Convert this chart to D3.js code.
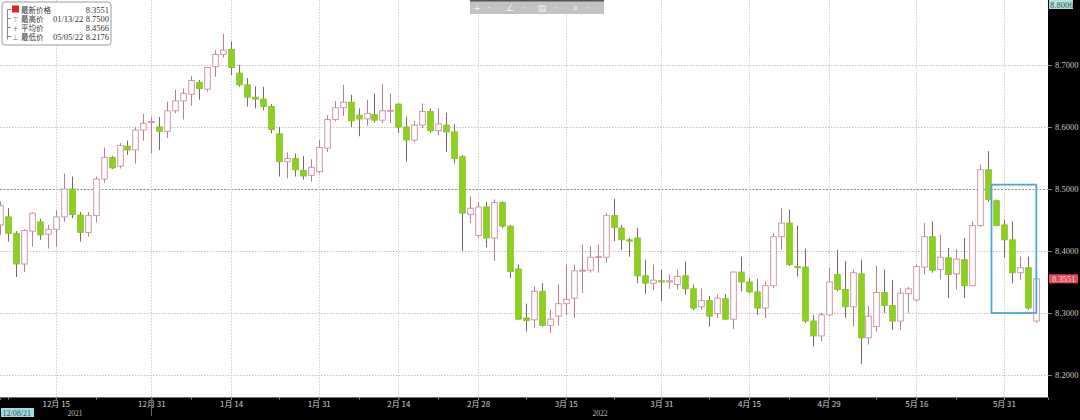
<!DOCTYPE html>
<html><head><meta charset="utf-8">
<script src="https://cdn.jsdelivr.net/npm/d3@7"></script>
<style>html,body{margin:0;padding:0;background:#000;}svg{display:block;}</style>
</head><body>
<svg id="chart" width="1080" height="420"></svg>
<script>
// ---- data (index = trading day, 0 = 2021-12-06) ----
const openV = [8.442,8.455,8.4285,8.379,8.432,8.447,8.427,8.435,8.455,8.5,8.458,8.43,8.457,8.516,8.551,8.537,8.569,8.563,8.595,8.608,8.6,8.593,8.626,8.642,8.653,8.672,8.661,8.697,8.717,8.725,8.687,8.668,8.648,8.645,8.633,8.589,8.544,8.549,8.53,8.522,8.528,8.566,8.612,8.631,8.64,8.619,8.613,8.62,8.611,8.626,8.637,8.6,8.579,8.603,8.625,8.594,8.603,8.592,8.552,8.459,8.425,8.471,8.421,8.478,8.44,8.371,8.292,8.289,8.335,8.28,8.295,8.315,8.324,8.368,8.369,8.39,8.39,8.457,8.437,8.418,8.421,8.36,8.348,8.352,8.35,8.346,8.36,8.339,8.31,8.32,8.299,8.323,8.29,8.366,8.35,8.334,8.308,8.344,8.423,8.445,8.375,8.374,8.287,8.263,8.297,8.362,8.338,8.31,8.363,8.26,8.278,8.333,8.312,8.287,8.331,8.321,8.374,8.423,8.37,8.389,8.363,8.386,8.344,8.441,8.531,8.481,8.442,8.418,8.365,8.373,8.287];
const highV = [8.48,8.469,8.432,8.435,8.462,8.452,8.442,8.466,8.525,8.52,8.463,8.463,8.52,8.567,8.553,8.574,8.578,8.6,8.621,8.617,8.616,8.641,8.66,8.662,8.682,8.676,8.697,8.724,8.75,8.738,8.7,8.679,8.665,8.665,8.637,8.6,8.559,8.557,8.553,8.548,8.579,8.619,8.642,8.668,8.652,8.63,8.644,8.654,8.669,8.654,8.638,8.617,8.61,8.638,8.63,8.63,8.623,8.605,8.555,8.488,8.478,8.48,8.483,8.48,8.442,8.378,8.315,8.343,8.348,8.305,8.346,8.378,8.378,8.41,8.408,8.41,8.461,8.484,8.442,8.421,8.437,8.386,8.378,8.37,8.362,8.37,8.383,8.346,8.34,8.327,8.33,8.33,8.367,8.391,8.356,8.355,8.351,8.429,8.469,8.467,8.441,8.404,8.297,8.3,8.373,8.402,8.384,8.37,8.386,8.311,8.376,8.37,8.353,8.34,8.342,8.378,8.445,8.448,8.426,8.405,8.403,8.421,8.448,8.539,8.561,8.483,8.45,8.448,8.391,8.391,8.356];
const lowV = [8.426,8.415,8.358,8.366,8.407,8.418,8.404,8.407,8.447,8.453,8.415,8.423,8.446,8.51,8.532,8.533,8.555,8.541,8.578,8.558,8.563,8.582,8.622,8.612,8.634,8.644,8.657,8.681,8.712,8.684,8.665,8.633,8.63,8.627,8.59,8.52,8.517,8.52,8.515,8.512,8.525,8.56,8.609,8.618,8.6,8.585,8.602,8.607,8.606,8.606,8.59,8.544,8.576,8.598,8.59,8.587,8.56,8.541,8.4,8.445,8.421,8.406,8.384,8.437,8.356,8.289,8.27,8.276,8.278,8.268,8.28,8.297,8.292,8.332,8.365,8.365,8.381,8.416,8.402,8.391,8.348,8.331,8.337,8.319,8.339,8.338,8.33,8.305,8.305,8.278,8.292,8.289,8.274,8.335,8.332,8.297,8.292,8.34,8.402,8.376,8.359,8.284,8.246,8.254,8.295,8.335,8.292,8.278,8.2176,8.249,8.27,8.3,8.273,8.273,8.3,8.318,8.362,8.365,8.354,8.324,8.338,8.324,8.343,8.439,8.48,8.44,8.389,8.348,8.354,8.305,8.284];
const closeV = [8.473,8.4285,8.379,8.433,8.461,8.426,8.435,8.455,8.5,8.459,8.43,8.457,8.516,8.551,8.534,8.57,8.563,8.595,8.606,8.609,8.593,8.626,8.642,8.654,8.675,8.662,8.696,8.717,8.724,8.696,8.668,8.648,8.645,8.633,8.596,8.544,8.549,8.531,8.521,8.535,8.567,8.612,8.631,8.64,8.61,8.613,8.622,8.611,8.626,8.627,8.6,8.579,8.603,8.625,8.594,8.605,8.592,8.549,8.461,8.469,8.471,8.421,8.478,8.44,8.367,8.29,8.288,8.335,8.28,8.29,8.315,8.322,8.368,8.369,8.39,8.391,8.457,8.438,8.418,8.416,8.36,8.348,8.353,8.35,8.352,8.359,8.339,8.308,8.32,8.295,8.324,8.29,8.366,8.35,8.334,8.308,8.344,8.423,8.445,8.378,8.373,8.287,8.263,8.297,8.35,8.338,8.31,8.365,8.26,8.295,8.333,8.312,8.287,8.332,8.339,8.375,8.423,8.369,8.39,8.362,8.387,8.344,8.441,8.531,8.483,8.441,8.418,8.365,8.373,8.308,8.3551];

const xTickIdx = [7,19,29,40,50,60,71,83,94,104,115,126];
const xTickLabels = ["12月 15","12月 31","1月 14","1月 31","2月 14","2月 28","3月 15","3月 31","4月 15","4月 29","5月 16","5月 31"];
const xMinorIdx = [1,12,24,35,45,55,66,77,89,99,110,120];
const yearIdx = [9.4,75.3];
const yearLabels = ["2021","2022"];
const yTicks = [8.2,8.3,8.4,8.5,8.6,8.7];
const yMaxLabel = 8.8006;
const lastPrice = 8.3551;
const legendNames = ["最新价格","最高价","平均价","最低价"];
const legendDates = ["","01/13/22","","05/05/22"];
const legendValues = ["8.3551","8.7500","8.4566","8.2176"];
const boxRange = {i0:125, i1:130, v0:8.3, v1:8.507};
const startDateLabel = "12/08/21";

// ---- layout ----
const W = 1080, H = 420, plotR = 1048, plotB = 397;
const svg = d3.select("#chart");
const x = d3.scaleLinear().domain([0, 131.53]).range([0, plotR]);
const y = d3.scaleLinear().domain([8.1645, 8.8048]).range([plotB, 0]);

svg.append("rect").attr("width", W).attr("height", H).attr("fill", "#000");
svg.append("rect").attr("width", plotR).attr("height", plotB).attr("fill", "#fff");

// gridlines
const g = svg.append("g");
g.selectAll("line.hg").data(yTicks).join("line")
  .attr("x1", 0).attr("x2", plotR)
  .attr("y1", d => Math.round(y(d)) + 0.5).attr("y2", d => Math.round(y(d)) + 0.5)
  .attr("stroke", d => d === 8.5 ? "#8a8a8a" : "#c4c4c4")
  .attr("stroke-dasharray", d => d === 8.5 ? "2,1.5" : "1.5,1.5");
g.selectAll("line.vg").data(xTickIdx).join("line")
  .attr("x1", d => Math.round(x(d)) + 0.5).attr("x2", d => Math.round(x(d)) + 0.5)
  .attr("y1", 0).attr("y2", plotB)
  .attr("stroke", "#cfcfcf").attr("stroke-dasharray", "1.5,1.5");

// candles
const idx = d3.range(openV.length);
const bw = 5.6;
const cg = svg.append("g");
cg.selectAll("line.wick").data(idx).join("line")
  .attr("x1", i => Math.round(x(i)) + 0.5).attr("x2", i => Math.round(x(i)) + 0.5)
  .attr("y1", i => y(highV[i])).attr("y2", i => y(lowV[i]))
  .attr("stroke", i => closeV[i] >= openV[i] ? "#b0809a" : "#7e6373")
  .attr("stroke-width", 1);
cg.selectAll("rect.body").data(idx).join("rect")
  .attr("x", i => Math.round(x(i)) + 0.5 - bw / 2)
  .attr("width", bw)
  .attr("y", i => y(Math.max(openV[i], closeV[i])))
  .attr("height", i => Math.max(1, Math.abs(y(openV[i]) - y(closeV[i]))))
  .attr("fill", i => closeV[i] >= openV[i] ? "#fff" : "#8dd020")
  .attr("stroke", i => closeV[i] >= openV[i] ? "#c98ea8" : "#86c41f")
  .attr("stroke-width", 0.9);

// highlight box
svg.append("rect")
  .attr("x", x(boxRange.i0) - 4.5).attr("y", y(boxRange.v1))
  .attr("width", x(boxRange.i1) - x(boxRange.i0) + 5)
  .attr("height", y(boxRange.v0) - y(boxRange.v1))
  .attr("fill", "none").attr("stroke", "#4fa6d6").attr("stroke-width", 1.8);

// right axis
const ya = svg.append("g").attr("transform", `translate(${plotR},0)`)
  .call(d3.axisRight(y).tickValues(yTicks).tickFormat(d3.format(".4f")).tickSize(4).tickPadding(3));
ya.select(".domain").remove();
ya.selectAll(".tick line").attr("stroke", "#888");
ya.selectAll(".tick text").attr("fill", "#c8c8c8").style("font-family", "'Liberation Serif', serif").style("font-size", "8.5px");

// top max label
svg.append("rect").attr("x", plotR + 1).attr("y", 0).attr("width", 24).attr("height", 9).attr("fill", "#b7e2dc");
svg.append("text").attr("x", plotR + 2).attr("y", 7.5).text(d3.format(".4f")(yMaxLabel))
  .attr("fill", "#1f5552").style("font-family", "'Liberation Serif', serif").style("font-size", "8.5px");
// last price label
svg.append("rect").attr("x", plotR + 1).attr("y", y(lastPrice) - 4.5).attr("width", 29).attr("height", 9).attr("fill", "#e04a5a");
svg.append("text").attr("x", plotR + 4).attr("y", y(lastPrice) + 3).text(d3.format(".4f")(lastPrice))
  .attr("fill", "#ffd4da").style("font-family", "'Liberation Serif', serif").style("font-size", "8.5px");

// bottom axis
const xa = svg.append("g").attr("transform", `translate(0,${plotB})`)
  .call(d3.axisBottom(x).tickValues(xTickIdx).tickFormat((d, i) => xTickLabels[i]).tickSize(3).tickPadding(1));
xa.select(".domain").attr("stroke", "#777");
xa.selectAll(".tick line").attr("stroke", "#999");
xa.selectAll(".tick text").attr("fill", "#cfcfcf").style("font-family", "'Noto Sans CJK SC', sans-serif").style("font-size", "8px");
svg.append("g").selectAll("line").data(xMinorIdx).join("line")
  .attr("x1", d => Math.round(x(d)) + 0.5).attr("x2", d => Math.round(x(d)) + 0.5)
  .attr("y1", plotB).attr("y2", plotB + 2.5).attr("stroke", "#999");
// year separator
svg.append("line").attr("x1", Math.round(x(19)) + 0.5).attr("x2", Math.round(x(19)) + 0.5)
  .attr("y1", plotB).attr("y2", 416).attr("stroke", "#666");
svg.append("g").selectAll("text").data(yearIdx).join("text")
  .attr("x", d => x(d)).attr("y", 416).attr("text-anchor", "middle")
  .text((d, i) => yearLabels[i]).attr("fill", "#bbb")
  .style("font-family", "'Liberation Serif', serif").style("font-size", "7.5px");
svg.append("rect").attr("x", 1).attr("y", 408).attr("width", 33).attr("height", 9).attr("fill", "#a6dbe3");
svg.append("text").attr("x", 2.5).attr("y", 415.5).text(startDateLabel).attr("fill", "#1c5a66")
  .style("font-family", "'Liberation Serif', serif").style("font-size", "8px");

// legend
const lg = svg.append("g");
lg.append("rect").attr("x", 2).attr("y", 2).attr("width", 109).attr("height", 43).attr("rx", 3)
  .attr("fill", "#fff").attr("stroke", "#9a9a9a");
const rowsY = [12.5, 21.5, 30.5, 39.5];
lg.append("line").attr("x1", 7.5).attr("x2", 7.5).attr("y1", rowsY[0] - 3).attr("y2", rowsY[3]).attr("stroke", "#888");
rowsY.forEach((ry) => {
  lg.append("line").attr("x1", 7.5).attr("x2", 11).attr("y1", ry - 3).attr("y2", ry - 3).attr("stroke", "#888");
});
lg.append("rect").attr("x", 12).attr("y", rowsY[0] - 7).attr("width", 7).attr("height", 7).attr("fill", "#e0202f");
const markers = ["⊤", "+", "⊥"];
lg.selectAll("text.mk").data(markers).join("text").attr("x", 15.5).attr("y", (d, i) => rowsY[i + 1])
  .attr("text-anchor", "middle").text(d => d).attr("fill", "#777")
  .style("font-family", "'DejaVu Sans', sans-serif").style("font-size", "7px");
lg.selectAll("text.nm").data(legendNames).join("text").attr("x", 21).attr("y", (d, i) => rowsY[i])
  .text(d => d).attr("fill", "#333").style("font-family", "'Noto Sans CJK SC', sans-serif").style("font-size", "7.5px");
lg.selectAll("text.dt").data(legendDates.map((d, i) => ({d, i})).filter(o => o.d !== "")).join("text")
  .attr("x", 53).attr("y", o => rowsY[o.i])
  .text(o => o.d).attr("fill", "#333").style("font-family", "'Liberation Serif', serif").style("font-size", "8.5px");
lg.selectAll("text.vl").data(legendValues).join("text").attr("x", 109).attr("y", (d, i) => rowsY[i])
  .attr("text-anchor", "end").text(d => d).attr("fill", "#333")
  .style("font-family", "'Liberation Serif', serif").style("font-size", "8.5px");

// toolbar
const tb = svg.append("g");
tb.append("rect").attr("x", 470).attr("y", 0).attr("width", 134).attr("height", 14).attr("fill", "#c2c2c2");
tb.append("rect").attr("x", 470).attr("y", 0).attr("width", 134).attr("height", 1.5).attr("fill", "#555");
const icons = ["+", "·", "∠", "·", "▤", "·", "⌕", "·"];
const iconX = [477, 489, 510, 525, 542, 557, 575, 589];
tb.selectAll("text").data(icons).join("text").attr("x", (d, i) => iconX[i]).attr("y", 11)
  .attr("text-anchor", "middle").text(d => d).attr("fill", "#f4f4f4")
  .style("font-family", "'DejaVu Sans', sans-serif").style("font-size", "9px");
</script>
</body></html>
